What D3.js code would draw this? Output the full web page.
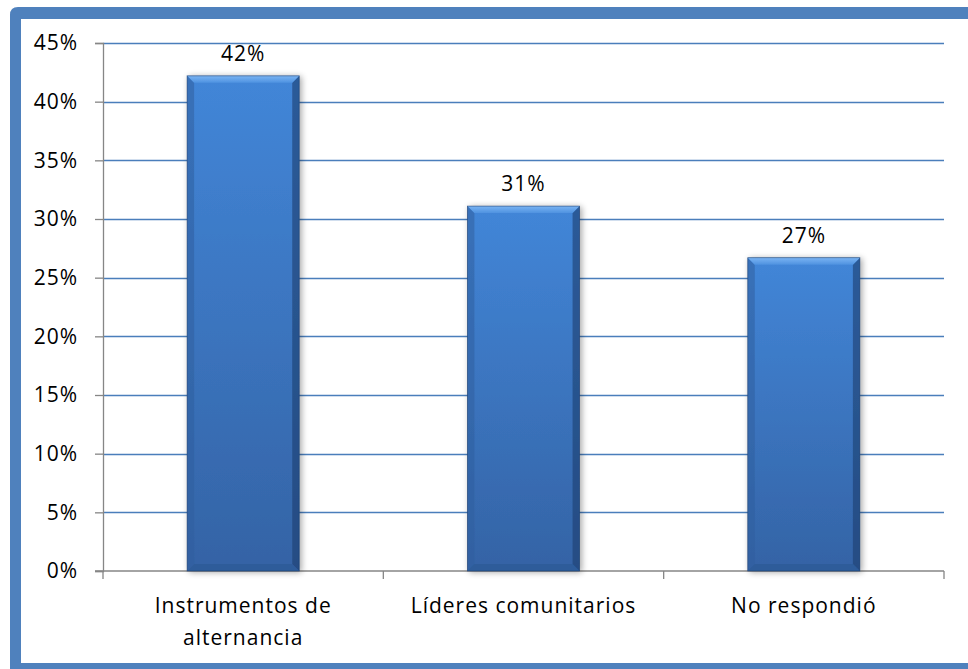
<!DOCTYPE html>
<html>
<head>
<meta charset="utf-8">
<script src="https://cdn.jsdelivr.net/npm/d3@7"></script>
<style>
  html, body { margin: 0; padding: 0; background: #fff; }
  svg { display: block; font-family: "Open Sans", Lato, sans-serif; }
  svg text { letter-spacing: 1px; }
</style>
</head>
<body>
<svg></svg>
<script>
var width = 968;
var height = 669;

// data
var categories = ['Instrumentos de alternancia', 'Líderes comunitarios', 'No respondió'];
var categoryLines = [['Instrumentos de', 'alternancia'], ['Líderes comunitarios'], ['No respondió']];
var values = [0.422, 0.311, 0.267];
var valueLabels = ['42%', '31%', '27%'];
var yTicks = [0, 0.05, 0.10, 0.15, 0.20, 0.25, 0.30, 0.35, 0.40, 0.45];

var margin = { left: 103, right: 24, top: 43, bottom: 98 };
var fontSize = 21;
var font = '"Open Sans", Lato, sans-serif';

var svg = d3.select('svg')
  .attr('width', width)
  .attr('height', height);

var defs = svg.append('defs');

var barGrad = defs.append('linearGradient')
  .attr('id', 'barGrad')
  .attr('x1', 0).attr('y1', 0).attr('x2', 0).attr('y2', 1);
barGrad.append('stop').attr('offset', '0%').attr('stop-color', '#4286d8');
barGrad.append('stop').attr('offset', '100%').attr('stop-color', '#3463a5');

var topGrad = defs.append('linearGradient')
  .attr('id', 'topGrad')
  .attr('x1', 0).attr('y1', 0).attr('x2', 0).attr('y2', 1);
topGrad.append('stop').attr('offset', '0%').attr('stop-color', '#7ab4f3');
topGrad.append('stop').attr('offset', '100%').attr('stop-color', '#4f92e0');

var shadow = defs.append('filter').attr('id', 'shadow')
  .attr('x', '-20%').attr('y', '-10%').attr('width', '140%').attr('height', '120%');
shadow.append('feGaussianBlur').attr('in', 'SourceAlpha').attr('stdDeviation', 3);
shadow.append('feOffset').attr('dx', 2).attr('dy', 1).attr('result', 'off');
shadow.append('feComponentTransfer').append('feFuncA').attr('type', 'linear').attr('slope', 0.35);
var merge = shadow.append('feMerge');
merge.append('feMergeNode');
merge.append('feMergeNode').attr('in', 'SourceGraphic');

// frame, runs off the right edge of the picture
svg.append('path')
  .attr('d', 'M10,' + height + ' V15 Q10,7 18,7 H' + width + ' V19 H21 V663 H' + width + ' V' + height + ' Z')
  .attr('fill', '#4f81bd');

var x = d3.scaleBand()
  .domain(categories)
  .range([margin.left, width - margin.right])
  .paddingInner(0.6)
  .paddingOuter(0.3);

var y = d3.scaleLinear()
  .domain([0, 0.45])
  .range([height - margin.bottom, margin.top]);

// gridlines
svg.append('g')
  .selectAll('line')
  .data(yTicks.slice(1))
  .enter().append('line')
    .attr('x1', margin.left)
    .attr('x2', width - margin.right)
    .attr('y1', d => Math.round(y(d)) + 0.5)
    .attr('y2', d => Math.round(y(d)) + 0.5)
    .attr('stroke', '#4a7ebb')
    .attr('stroke-width', 1.3);

// y axis
var yAxis = svg.append('g')
  .attr('transform', 'translate(' + margin.left + ',0)')
  .call(d3.axisLeft(y).tickValues(yTicks).tickFormat(d3.format('.0%')).tickSize(8).tickPadding(17));
yAxis.select('.domain').attr('stroke', '#868686').attr('stroke-width', 1.3);
yAxis.selectAll('.tick line').attr('stroke', '#868686').attr('stroke-width', 1.3);
yAxis.selectAll('text')
  .attr('font-size', fontSize)
  .attr('font-family', font)
  .attr('fill', '#000');

// x axis
var xBottom = y(0);
var xAxis = svg.append('g').attr('class', 'x-axis');
xAxis.append('line')
  .attr('x1', margin.left - 8).attr('x2', width - margin.right)
  .attr('y1', xBottom).attr('y2', xBottom)
  .attr('stroke', '#868686').attr('stroke-width', 1.3);
var step = x.step();
xAxis.selectAll('.xtick')
  .data(d3.range(categories.length + 1))
  .enter().append('line')
    .attr('class', 'xtick')
    .attr('x1', i => margin.left + i * step)
    .attr('x2', i => margin.left + i * step)
    .attr('y1', xBottom)
    .attr('y2', xBottom + 8)
    .attr('stroke', '#868686').attr('stroke-width', 1.3);

xAxis.selectAll('.xlabel')
  .data(categories)
  .enter().append('text')
    .attr('class', 'xlabel')
    .attr('x', d => x(d) + x.bandwidth() / 2)
    .attr('y', xBottom + 42)
    .attr('text-anchor', 'middle')
    .attr('font-size', fontSize)
    .attr('fill', '#000')
    .selectAll('tspan')
    .data((d, i) => categoryLines[i])
    .enter().append('tspan')
      .attr('x', function() { return this.parentNode.getAttribute('x'); })
      .attr('dy', (d, i) => i === 0 ? 0 : 32)
      .text(d => d);

// bars
var bev = 7;
var bars = svg.append('g')
  .selectAll('g')
  .data(values)
  .enter().append('g')
    .attr('filter', 'url(#shadow)');

bars.append('rect')
  .attr('x', (d, i) => x(categories[i]))
  .attr('y', d => y(d))
  .attr('width', x.bandwidth())
  .attr('height', d => y(0) - y(d))
  .attr('fill', 'url(#barGrad)');

// bevel edges
bars.append('path')
  .attr('d', (d, i) => {
    var x0 = x(categories[i]), y0 = y(d), y1 = y(0);
    return 'M' + x0 + ',' + y0 + ' L' + (x0 + bev) + ',' + (y0 + bev) + ' L' + (x0 + bev) + ',' + (y1 - bev) + ' L' + x0 + ',' + y1 + 'Z';
  })
  .attr('fill', '#2f5f9f')
  .attr('opacity', 0.55);
bars.append('path')
  .attr('d', (d, i) => {
    var x1 = x(categories[i]) + x.bandwidth(), y0 = y(d), y1 = y(0);
    return 'M' + x1 + ',' + y0 + ' L' + (x1 - bev) + ',' + (y0 + bev) + ' L' + (x1 - bev) + ',' + (y1 - bev) + ' L' + x1 + ',' + y1 + 'Z';
  })
  .attr('fill', '#1d3e6e')
  .attr('opacity', 0.6);
bars.append('path')
  .attr('d', (d, i) => {
    var x0 = x(categories[i]), x1 = x0 + x.bandwidth(), y1 = y(0);
    return 'M' + x0 + ',' + y1 + ' L' + (x0 + bev) + ',' + (y1 - bev) + ' L' + (x1 - bev) + ',' + (y1 - bev) + ' L' + x1 + ',' + y1 + 'Z';
  })
  .attr('fill', '#2a5793')
  .attr('opacity', 0.6);
bars.append('path')
  .attr('d', (d, i) => {
    var x0 = x(categories[i]), x1 = x0 + x.bandwidth(), y0 = y(d);
    return 'M' + x0 + ',' + y0 + ' L' + x1 + ',' + y0 + ' L' + (x1 - bev) + ',' + (y0 + bev) + ' L' + (x0 + bev) + ',' + (y0 + bev) + 'Z';
  })
  .attr('fill', 'url(#topGrad)');
bars.append('rect')
  .attr('x', (d, i) => x(categories[i]))
  .attr('y', d => y(d))
  .attr('width', x.bandwidth())
  .attr('height', d => y(0) - y(d))
  .attr('fill', 'none')
  .attr('stroke', '#1f3f6e')
  .attr('stroke-width', 0.8)
  .attr('stroke-opacity', 0.7);

// value labels
svg.append('g')
  .selectAll('text')
  .data(values)
  .enter().append('text')
    .attr('x', (d, i) => x(categories[i]) + x.bandwidth() / 2)
    .attr('y', d => y(d) - 15)
    .attr('text-anchor', 'middle')
    .attr('font-size', fontSize)
    .attr('fill', '#000')
    .text((d, i) => valueLabels[i]);
</script>
</body>
</html>
